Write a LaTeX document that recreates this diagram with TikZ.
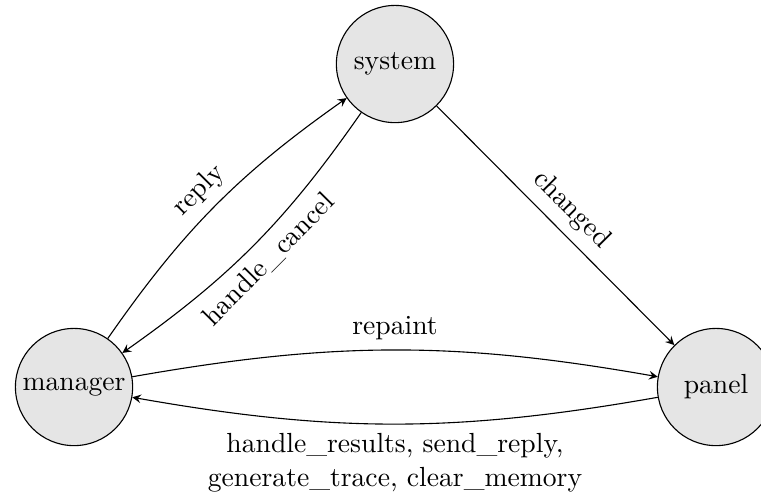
\documentclass[tikz,border=0pt]{standalone}
\usepackage{tikz}
\usepackage{xcolor}
\usetikzlibrary{arrows}

\begin{document}
\begin{tikzpicture}[scale=1, transform shape]
	\tikzset{state/.style={circle, draw=black, fill=gray!20, minimum size=1.49cm, inner sep=0pt}}
	\tikzset{trans/.style={->, >=stealth, line width=0.4pt}}
	%
	\useasboundingbox (-0.941,-1.424) rectangle (8.733,4.92); % picture frame, panel cut on the right
	%
	% States
	\node[state] (manager) at (0, 0) {manager};
	\node[state] (system) at (4.08, 4.106) {system};
	\node[state] (panel) at (8.161, 0) {panel};
	%
	% Transitions
	\draw[trans] (manager) to[bend left=10] node[above, sloped] {reply} (system); % up left
	\draw[trans] (system) to[bend left=10] node[below, sloped] {handle\_cancel} (manager); % down right
	\draw[trans] (system) -- node[above, sloped] {changed} (panel);
	\draw[trans] (manager) to[bend left=10] node[above] {repaint} (panel);
	\draw[trans] (panel) to[bend left=10] node[below, align=center] {handle\_results, send\_reply,\\generate\_trace, clear\_memory} (manager);
\end{tikzpicture}
\end{document}
